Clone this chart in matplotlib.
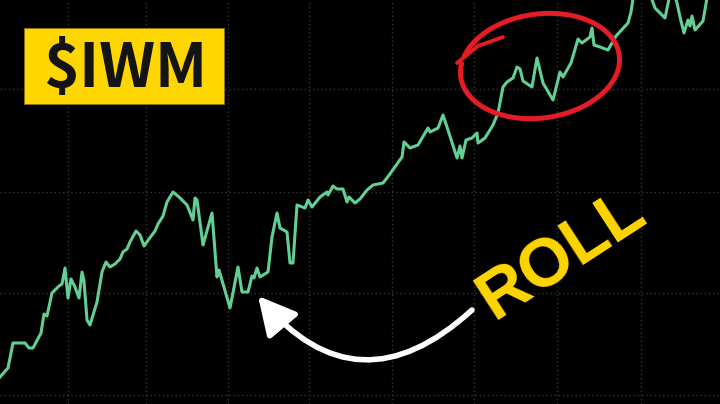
import numpy as np
import matplotlib
matplotlib.use("Agg")
import matplotlib.pyplot as plt
from matplotlib.patches import Rectangle, FancyArrowPatch

# ---- data ----
day = [0, 8, 13, 25, 29, 33, 41, 44, 47, 52, 59, 62, 65, 68, 71, 75, 79, 82, 84, 87,
       90, 97, 102, 106, 110, 115, 120, 123, 127, 130, 136, 140, 144, 149, 155, 158, 163, 167, 173, 179,
       187, 193, 195, 197, 203, 212, 217, 219, 230, 238, 242, 248, 252, 254, 257, 260, 268, 272, 277, 280,
       287, 290, 293, 297, 305, 308, 312, 320, 327, 328, 333, 337, 343, 347, 349, 355, 360, 367, 373, 383,
       387, 402, 404, 410, 418, 428, 430, 438, 443, 448, 457, 460, 462, 466, 472, 477, 478, 485, 493, 498,
       503, 507, 513, 517, 520, 523, 532, 537, 543, 553, 560, 563, 571, 578, 582, 590, 592, 594, 600, 608,
       616, 628, 631, 634, 640, 646, 651, 655, 665, 670, 673, 677, 680, 684, 688, 690, 692, 695, 703, 707,
       712, 720]
level = [27, 36, 61, 61, 56, 56, 71, 90, 88, 111, 118, 120, 136, 106, 125, 117, 106, 132, 123, 84,
         79, 102, 132, 142, 137, 140, 145, 152, 155, 162, 173, 169, 158, 165, 173, 180, 188, 202, 212, 207,
         199, 184, 206, 204, 159, 191, 127, 134, 96, 137, 112, 112, 128, 126, 136, 127, 132, 167, 191, 176,
         172, 141, 141, 199, 196, 204, 197, 207, 212, 209, 218, 215, 215, 202, 207, 201, 205, 214, 219, 221,
         226, 247, 262, 256, 259, 276, 272, 276, 289, 274, 246, 258, 246, 264, 266, 271, 261, 266, 279, 291,
         317, 322, 326, 337, 335, 323, 317, 346, 321, 304, 332, 327, 341, 365, 361, 367, 376, 359, 357, 354,
         368, 381, 392, 412, 424, 416, 407, 396, 386, 410, 414, 401, 387, 371, 384, 378, 388, 374, 383, 406,
         419, 424]

grid_x = [68, 146, 228, 309, 392, 474, 557, 641]
grid_y = [9, 111, 212, 315]

title_text = "$IWM"
callout_text = "ROLL"

BG = "black"
LINE = "#62cf94"
YELLOW = "#ffd600"
RED = "#e31c25"

fig = plt.figure(figsize=(7.2, 4.04), dpi=100, facecolor=BG)
ax = fig.add_axes([0, 0, 1, 1])
ax.set_facecolor(BG)
ax.set_xlim(0, 720)
ax.set_ylim(0, 404)
ax.set_xticks(grid_x)
ax.set_yticks(grid_y)
ax.grid(True, color="#363636", linestyle=(0, (1, 2)), linewidth=1.0)
ax.tick_params(length=0, labelbottom=False, labelleft=False)
for s in ax.spines.values():
    s.set_visible(False)

ax.plot(day, level, color=LINE, lw=2.2, zorder=3)

# title box
ax.add_patch(Rectangle((24, 300), 200, 76, facecolor=YELLOW, edgecolor="#8a7400",
                       lw=0.6, zorder=5))
ax.text(125.5, 317, title_text, ha="center", va="baseline", fontsize=44,
        fontweight="bold", color="#141414",
        family=["Noto Sans CJK JP", "DejaVu Sans"], zorder=6)

# rotated callout
ax.text(572, 134, callout_text, ha="center", va="baseline", rotation=33,
        rotation_mode="anchor", fontsize=49, fontweight="bold", color=YELLOW,
        family=["Liberation Sans", "DejaVu Sans"], zorder=6)

# hand-drawn style red ellipse
cx, cy, a, b, ang = 540, 338, 80, 52, np.deg2rad(8)
t = np.linspace(np.deg2rad(165), np.deg2rad(165 + 352), 300)
ex, ey = a * np.cos(t), b * np.sin(t)
ax.plot(cx + ex * np.cos(ang) - ey * np.sin(ang),
        cy + ex * np.sin(ang) + ey * np.cos(ang), color=RED, lw=3.6,
        solid_capstyle="round", zorder=4)
ax.plot([457, 478, 503], [341, 358, 367], color=RED, lw=2.8,
        solid_capstyle="round", zorder=4)

# curved white arrow
arrow = FancyArrowPatch((472, 94), (258, 108), connectionstyle="arc3,rad=-0.52",
                        arrowstyle="-|>,head_length=1.15,head_width=0.6",
                        mutation_scale=20, color="white", lw=4,
                        shrinkA=0, shrinkB=0, zorder=6)
ax.add_patch(arrow)

fig.savefig("out.png", dpi=100, facecolor=BG)
